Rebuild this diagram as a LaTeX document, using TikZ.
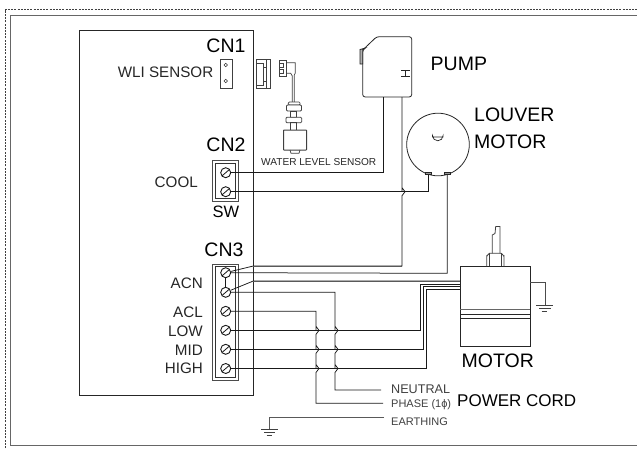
\documentclass[tikz,border=0pt]{standalone}
\usepackage{fontspec}
\setmainfont{Liberation Sans}
\tikzset{
 x=1pt,y=-1pt,
 wire/.style={draw=black!90,line width=0.75pt},
 gline/.style={draw=black!65,line width=1pt},
 lbl/.style={inner sep=0pt,anchor=east,font=\fontsize{15.2}{17}\selectfont,text=black!85},
 big/.style={inner sep=0pt,font=\fontsize{19.5}{21}\selectfont,text=black},
 small/.style={inner sep=0pt,anchor=west,font=\fontsize{11}{13}\selectfont,text=black!75},
 screw/.style={circle,draw=black!90,line width=0.9pt,fill=white,minimum size=10pt,inner sep=0pt,
   path picture={\draw[black!90,line width=.8pt] ([shift={(1.5pt,2pt)}]path picture bounding box.south west) -- ([shift={(-1.5pt,-2pt)}]path picture bounding box.north east);}},
 hole/.style={circle,draw=black!80,line width=.5pt,minimum size=3.6pt,inner sep=0pt},
 part/.style={draw=black!75,line width=.8pt},
}
\newcommand{\hop}{-- ++(0,-4) -- ++(3,4) -- ++(-3,4)}
\begin{document}
\begin{tikzpicture}
\useasboundingbox (0,0) rectangle (637,448);
\fill[white] (0,0) rectangle (637,448);
% frames (they run off the page at the right and bottom)
\draw[black!75,line width=0.9pt,dash pattern=on 2pt off 1.2pt] (5,448) -- (5,9.5) -- (637,9.5);
\draw[black!60,line width=1.2pt] (637,15.8) -- (10.3,15.8) -- (10.3,445.8) -- (637,445.8);
% board
\draw[black!85,line width=0.8pt] (79.5,30) rectangle (253.3,395);
% labels
\node[big] (cn1) at (226,46) {CN1};
\node[big] (cn2) at (226,145) {CN2};
\node[big] (cn3) at (224,250) {CN3};
\node[lbl] (wli) at (213.5,72.5) {WLI SENSOR};
\node[lbl] (cool) at (198,182) {COOL};
\node[inner sep=0pt,font=\fontsize{16.5}{18}\selectfont] (sw) at (226,211.5) {SW};
\node[lbl] (acn) at (203,283) {ACN};
\node[lbl] (acl) at (203,312) {ACL};
\node[lbl] (low) at (203,331) {LOW};
\node[lbl] (mid) at (203,350) {MID};
\node[lbl] (high) at (203,368.5) {HIGH};
\node[big,anchor=west] (pump) at (430.5,63.5) {PUMP};
\node[big,anchor=west] (louver) at (474,115) {LOUVER};
\node[big,anchor=west] (lmotor) at (474,142) {MOTOR};
\node[big,anchor=west] (motor) at (461.5,361) {MOTOR};
\node[inner sep=0pt,anchor=west,font=\fontsize{17}{19}\selectfont] (pc) at (457,400.5) {POWER CORD};
\node[small,font=\fontsize{10.1}{12}\selectfont,text=black!85] (wls) at (261,161.7) {WATER LEVEL SENSOR};
\node[small,font=\fontsize{12.6}{14}\selectfont] (neu) at (391,389) {NEUTRAL};
\node[small] (pha) at (391,405) {PHASE (1ϕ)};
\node[small] (ear) at (391,421.5) {EARTHING};
% CN1 socket
\draw[part] (220,59.3) rectangle (232.3,88.3);
\node[hole] at (225.7,65) {};
\node[hole] at (225.7,81) {};
% plug
\draw[part] (256.5,59.5) rectangle (270.5,88.5);
\draw[part,line width=.6pt] (266.5,59.5)--(266.5,88.5);
\draw[part,line width=.6pt] (256.5,63)--(263,63)--(263,67)--(266.5,67) (263,67)--(263,81)--(266.5,81) (263,81)--(263,85)--(256.5,85);
% float switch
\draw[part] (279.5,60.7) rectangle (286,76);
\draw[part,line width=.6pt] (279.5,63) rectangle (283,67) (279.5,69.5) rectangle (283,73.5);
\draw[part,line width=.7pt] (286,62.7) -- (295.3,62.7) -- (295.3,73) -- (294.3,75) -- (294.3,102);
\draw[part,line width=.7pt] (286,73.3) -- (290.7,73.3) -- (292.3,76) -- (292.3,102);
\draw[part,line width=.7pt,fill=white,rounded corners=1pt] (288.3,102) rectangle (300,105);
\draw[part,fill=white,rounded corners=1pt] (286.5,105) rectangle (301.5,111);
\draw[part,line width=.7pt,fill=white] (290.7,111) rectangle (296.7,117.3);
\draw[part,fill=white,rounded corners=1pt] (286,117.3) rectangle (301.7,122.7);
\draw[part,line width=.7pt] (290.7,122.7) rectangle (296.7,130);
\draw[part,line width=1pt,fill=white,rounded corners=.5pt] (283.5,130) rectangle (306.5,150);
\draw[part,line width=.7pt] (290,150) -- (291,153.3) -- (299,153.3) -- (300,150);
% pump
\draw[black!85,line width=.8pt,rounded corners=2.5pt] (362.7,50) -- (376.7,36.7) -- (411.7,36.7) -- (411.7,97) -- (362.7,97) -- cycle;
\coordinate (p1) at (383,97);
\coordinate (p2) at (402,97);
\draw[black!85,line width=.8pt,fill=black!30] (360,49.5) -- (365.5,48) -- (362.7,50) -- (362.7,64) -- (360,64) -- cycle;
\draw[black!85,line width=.8pt] (401.3,70.5) -- (409.5,70.5) (401.3,76.5) -- (409.5,76.5) (405.4,70.5) -- (405.4,76.5);
% louver motor
\node[circle,draw=black!85,line width=.8pt,minimum size=62.6pt,inner sep=0pt] (lm) at (438,144.5) {};
\draw[black!85,line width=.7pt] (432.5,137) -- (432.5,135.5) arc[start angle=180,end angle=0,radius=5.3] -- (443.1,137) -- cycle;
\draw[black!85,line width=.7pt,fill=black!40] (425,172.8) rectangle (431.7,174.8) (444,172.8) rectangle (450,174.8);
\coordinate (l1) at (428.3,174.8);
\coordinate (l2) at (447.3,174.8);
% CN2
\draw[black!70,line width=.9pt] (212.7,160.7) rectangle (238.3,201);
\draw[black!80,line width=.8pt] (215.5,163.5) rectangle (235.5,198);
\node[screw] (s21) at (225.7,172.7) {};
\node[screw] (s22) at (225.7,191.7) {};
% CN3
\draw[black!70,line width=.9pt] (212.7,264) rectangle (238.7,380);
\draw[black!80,line width=.8pt] (215.5,266.8) rectangle (235.7,377.2);
\node[screw] (a) at (225.7,272.7) {};
\node[screw] (b) at (225.7,292.3) {};
\node[screw] (c) at (225.7,311.3) {};
\node[screw] (d) at (225.7,330.3) {};
\node[screw] (e) at (225.7,349.3) {};
\node[screw] (f) at (225.7,368.5) {};
\draw[wire] (a) -- (b);
% motor
\draw[black!85,line width=.8pt] (460.3,266.3) rectangle (530,346.7);
\draw[black!60,line width=1pt] (460.3,309.5) -- (530,309.5);
\draw[black!85,line width=.9pt] (460.3,314) -- (530,314);
\draw[black!85,line width=.9pt] (460.3,318.3) -- (530,318.3);
\draw[part] (486.7,266.3) -- (486.7,256) to[out=-90,in=180] (489.5,253.3) -- (501,253.3) to[out=0,in=-90] (504,256) -- (504,266.3);
\draw[part,line width=.7pt] (489.5,266.3) -- (489.5,253.3) (501.5,266.3) -- (501.5,253.3);
\draw[part] (492.3,253.3) -- (492.3,235) -- (495,233.5) -- (495.7,226.5) -- (500,226.5) -- (500,253.3);
% motor ground
\coordinate (mg) at (530,282.7);
\draw[black!70,line width=.7pt] (mg) -- (545,282.7) -- (545,305.7);
\draw[black!75,line width=.8pt] (536,305.7) -- (553.3,305.7) (539,308.3) -- (550.7,308.3) (541.5,311) -- (547,311);
% wires
\draw[wire] (s21) -- (383,172.7) -- (p1);
\draw[wire] (s22) -- (428.3,191.7) -- (l1);
\draw[wire] (p2) -- (402,191.7) \hop -- (402,266) -- (253.3,266) -- (a);
\draw[gline] (402,266) -- (253.3,266);
\draw[wire] (l2) -- (447.3,273.3) -- (a);
\draw[wire] (b) -- (253.3,281) -- (460.3,281);
\draw[gline] (253.3,281) -- (460.3,281);
\draw[wire] (b) -- (335,292.3) -- (335,330.3) \hop -- (335,349.3) \hop -- (335,368.5) \hop -- (335,390) -- (381,390);
\draw[wire] (c) -- (316,311.3) -- (316,330.3) \hop -- (316,349.3) \hop -- (316,368.5) \hop -- (316,403.3) -- (383,403.3);
\draw[wire] (d) -- (420.7,330.3) -- (420.7,284.4) -- (460.3,284.4);
\draw[wire] (e) -- (423.3,349.3) -- (423.3,286.8) -- (460.3,286.8);
\draw[wire] (f) -- (426,368.5) -- (426,289.2) -- (460.3,289.2);
% earth
\draw[black!65,line width=.8pt] (384,417.7) -- (269.3,417.7) -- (269.3,429.3);
\draw[black!75,line width=.8pt] (261,429.3) -- (277.7,429.3) (264,432.2) -- (275,432.2) (266.7,435) -- (272.3,435);
\end{tikzpicture}
\end{document}
